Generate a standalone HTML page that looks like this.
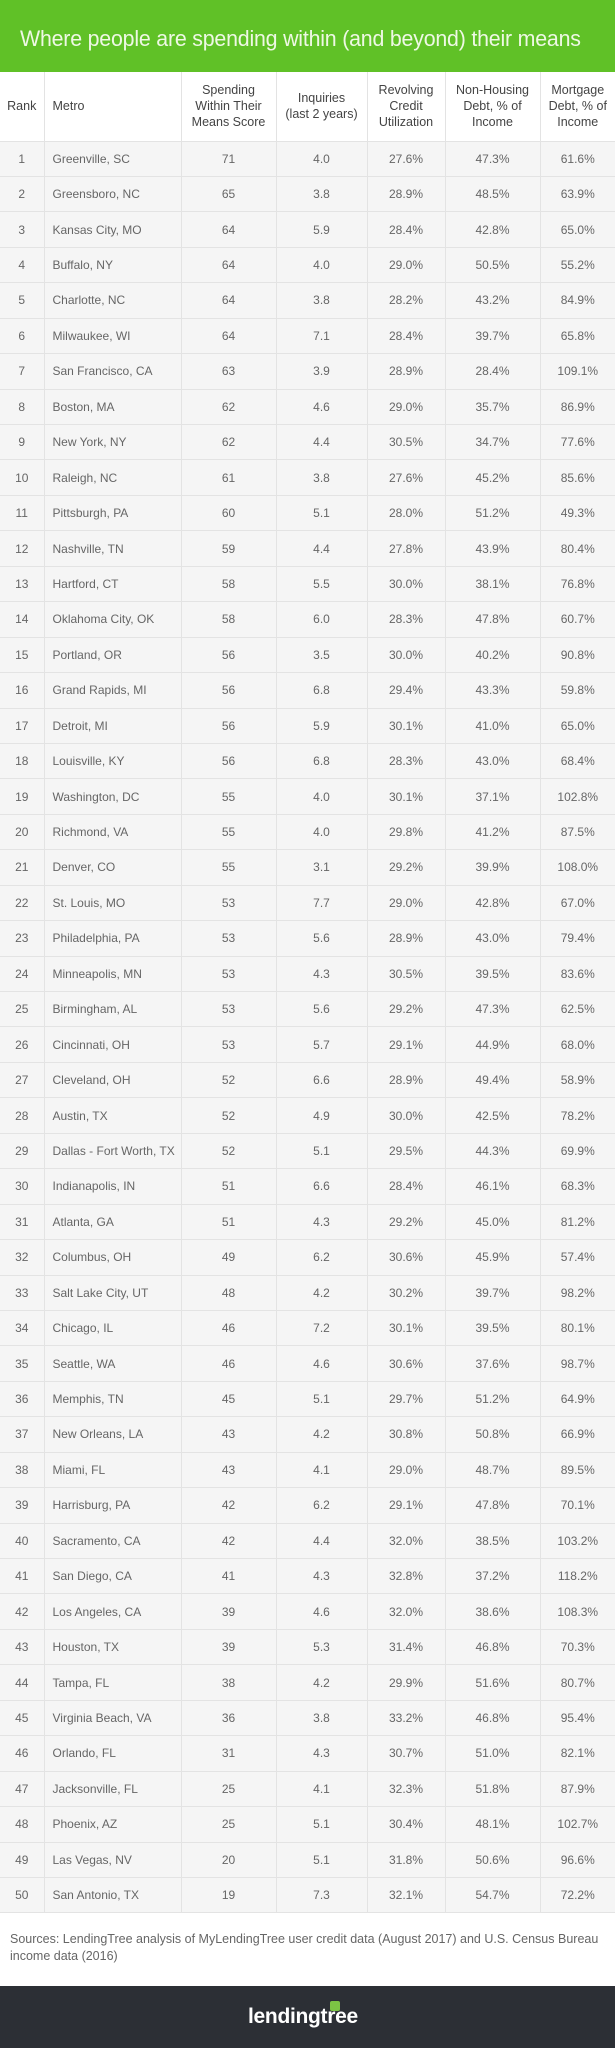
<!DOCTYPE html>
<html><head><meta charset="utf-8"><style>
*{margin:0;padding:0;box-sizing:border-box}
body{width:615px;height:2048px;background:#fff;font-family:"Liberation Sans",sans-serif;position:relative;overflow:hidden}
.hdr{position:absolute;left:0;top:0;width:615px;height:72px;background:#60c127}
.hdr span{position:absolute;left:20px;top:26px;font-size:22px;color:#eef8e4;white-space:nowrap;transform:scaleX(0.97);transform-origin:left top;letter-spacing:-0.2px}
table{position:absolute;left:0;top:72px;width:615px;border-collapse:collapse;table-layout:fixed}
th{height:69px;font-weight:normal;font-size:12.5px;line-height:16px;color:#444;border-left:1px solid #e3e3e3;border-bottom:1px solid #e3e3e3;background:#fff;padding:0;white-space:nowrap}
td{height:35.44px;font-size:12px;color:#666;text-align:center;border-left:1px solid #e3e3e3;border-bottom:1px solid #e3e3e3;background:#f5f5f5}
th:first-child,td:first-child{border-left:none;padding:0}
td:nth-child(2),th:nth-child(2){text-align:left;padding-left:8px}
.src{position:absolute;left:10px;top:1931px;width:600px;font-size:12.5px;line-height:17px;color:#666}
.ft{position:absolute;left:0;top:1986px;width:615px;height:62px;background:#2c2f35}
.logo{position:absolute;left:248px;top:20px;font-size:21px;line-height:21px;font-weight:bold;color:#fff;letter-spacing:-0.3px}
.sq{position:absolute;left:330px;top:15px;width:10px;height:10px;background:#7cc444;border-radius:2px}
</style></head><body>
<div class="hdr"><span>Where people are spending within (and beyond) their means</span></div>
<table>
<colgroup><col style="width:44px"><col style="width:137px"><col style="width:95px"><col style="width:91px"><col style="width:78px"><col style="width:95px"><col style="width:75px"></colgroup>
<tr><th>Rank</th><th>Metro</th><th>Spending<br>Within Their<br>Means Score</th><th>Inquiries<br>(last 2 years)</th><th>Revolving<br>Credit<br>Utilization</th><th>Non-Housing<br>Debt, % of<br>Income</th><th>Mortgage<br>Debt, % of<br>Income</th></tr>
<tr><td>1</td><td>Greenville, SC</td><td>71</td><td>4.0</td><td>27.6%</td><td>47.3%</td><td>61.6%</td></tr>
<tr><td>2</td><td>Greensboro, NC</td><td>65</td><td>3.8</td><td>28.9%</td><td>48.5%</td><td>63.9%</td></tr>
<tr><td>3</td><td>Kansas City, MO</td><td>64</td><td>5.9</td><td>28.4%</td><td>42.8%</td><td>65.0%</td></tr>
<tr><td>4</td><td>Buffalo, NY</td><td>64</td><td>4.0</td><td>29.0%</td><td>50.5%</td><td>55.2%</td></tr>
<tr><td>5</td><td>Charlotte, NC</td><td>64</td><td>3.8</td><td>28.2%</td><td>43.2%</td><td>84.9%</td></tr>
<tr><td>6</td><td>Milwaukee, WI</td><td>64</td><td>7.1</td><td>28.4%</td><td>39.7%</td><td>65.8%</td></tr>
<tr><td>7</td><td>San Francisco, CA</td><td>63</td><td>3.9</td><td>28.9%</td><td>28.4%</td><td>109.1%</td></tr>
<tr><td>8</td><td>Boston, MA</td><td>62</td><td>4.6</td><td>29.0%</td><td>35.7%</td><td>86.9%</td></tr>
<tr><td>9</td><td>New York, NY</td><td>62</td><td>4.4</td><td>30.5%</td><td>34.7%</td><td>77.6%</td></tr>
<tr><td>10</td><td>Raleigh, NC</td><td>61</td><td>3.8</td><td>27.6%</td><td>45.2%</td><td>85.6%</td></tr>
<tr><td>11</td><td>Pittsburgh, PA</td><td>60</td><td>5.1</td><td>28.0%</td><td>51.2%</td><td>49.3%</td></tr>
<tr><td>12</td><td>Nashville, TN</td><td>59</td><td>4.4</td><td>27.8%</td><td>43.9%</td><td>80.4%</td></tr>
<tr><td>13</td><td>Hartford, CT</td><td>58</td><td>5.5</td><td>30.0%</td><td>38.1%</td><td>76.8%</td></tr>
<tr><td>14</td><td>Oklahoma City, OK</td><td>58</td><td>6.0</td><td>28.3%</td><td>47.8%</td><td>60.7%</td></tr>
<tr><td>15</td><td>Portland, OR</td><td>56</td><td>3.5</td><td>30.0%</td><td>40.2%</td><td>90.8%</td></tr>
<tr><td>16</td><td>Grand Rapids, MI</td><td>56</td><td>6.8</td><td>29.4%</td><td>43.3%</td><td>59.8%</td></tr>
<tr><td>17</td><td>Detroit, MI</td><td>56</td><td>5.9</td><td>30.1%</td><td>41.0%</td><td>65.0%</td></tr>
<tr><td>18</td><td>Louisville, KY</td><td>56</td><td>6.8</td><td>28.3%</td><td>43.0%</td><td>68.4%</td></tr>
<tr><td>19</td><td>Washington, DC</td><td>55</td><td>4.0</td><td>30.1%</td><td>37.1%</td><td>102.8%</td></tr>
<tr><td>20</td><td>Richmond, VA</td><td>55</td><td>4.0</td><td>29.8%</td><td>41.2%</td><td>87.5%</td></tr>
<tr><td>21</td><td>Denver, CO</td><td>55</td><td>3.1</td><td>29.2%</td><td>39.9%</td><td>108.0%</td></tr>
<tr><td>22</td><td>St. Louis, MO</td><td>53</td><td>7.7</td><td>29.0%</td><td>42.8%</td><td>67.0%</td></tr>
<tr><td>23</td><td>Philadelphia, PA</td><td>53</td><td>5.6</td><td>28.9%</td><td>43.0%</td><td>79.4%</td></tr>
<tr><td>24</td><td>Minneapolis, MN</td><td>53</td><td>4.3</td><td>30.5%</td><td>39.5%</td><td>83.6%</td></tr>
<tr><td>25</td><td>Birmingham, AL</td><td>53</td><td>5.6</td><td>29.2%</td><td>47.3%</td><td>62.5%</td></tr>
<tr><td>26</td><td>Cincinnati, OH</td><td>53</td><td>5.7</td><td>29.1%</td><td>44.9%</td><td>68.0%</td></tr>
<tr><td>27</td><td>Cleveland, OH</td><td>52</td><td>6.6</td><td>28.9%</td><td>49.4%</td><td>58.9%</td></tr>
<tr><td>28</td><td>Austin, TX</td><td>52</td><td>4.9</td><td>30.0%</td><td>42.5%</td><td>78.2%</td></tr>
<tr><td>29</td><td>Dallas - Fort Worth, TX</td><td>52</td><td>5.1</td><td>29.5%</td><td>44.3%</td><td>69.9%</td></tr>
<tr><td>30</td><td>Indianapolis, IN</td><td>51</td><td>6.6</td><td>28.4%</td><td>46.1%</td><td>68.3%</td></tr>
<tr><td>31</td><td>Atlanta, GA</td><td>51</td><td>4.3</td><td>29.2%</td><td>45.0%</td><td>81.2%</td></tr>
<tr><td>32</td><td>Columbus, OH</td><td>49</td><td>6.2</td><td>30.6%</td><td>45.9%</td><td>57.4%</td></tr>
<tr><td>33</td><td>Salt Lake City, UT</td><td>48</td><td>4.2</td><td>30.2%</td><td>39.7%</td><td>98.2%</td></tr>
<tr><td>34</td><td>Chicago, IL</td><td>46</td><td>7.2</td><td>30.1%</td><td>39.5%</td><td>80.1%</td></tr>
<tr><td>35</td><td>Seattle, WA</td><td>46</td><td>4.6</td><td>30.6%</td><td>37.6%</td><td>98.7%</td></tr>
<tr><td>36</td><td>Memphis, TN</td><td>45</td><td>5.1</td><td>29.7%</td><td>51.2%</td><td>64.9%</td></tr>
<tr><td>37</td><td>New Orleans, LA</td><td>43</td><td>4.2</td><td>30.8%</td><td>50.8%</td><td>66.9%</td></tr>
<tr><td>38</td><td>Miami, FL</td><td>43</td><td>4.1</td><td>29.0%</td><td>48.7%</td><td>89.5%</td></tr>
<tr><td>39</td><td>Harrisburg, PA</td><td>42</td><td>6.2</td><td>29.1%</td><td>47.8%</td><td>70.1%</td></tr>
<tr><td>40</td><td>Sacramento, CA</td><td>42</td><td>4.4</td><td>32.0%</td><td>38.5%</td><td>103.2%</td></tr>
<tr><td>41</td><td>San Diego, CA</td><td>41</td><td>4.3</td><td>32.8%</td><td>37.2%</td><td>118.2%</td></tr>
<tr><td>42</td><td>Los Angeles, CA</td><td>39</td><td>4.6</td><td>32.0%</td><td>38.6%</td><td>108.3%</td></tr>
<tr><td>43</td><td>Houston, TX</td><td>39</td><td>5.3</td><td>31.4%</td><td>46.8%</td><td>70.3%</td></tr>
<tr><td>44</td><td>Tampa, FL</td><td>38</td><td>4.2</td><td>29.9%</td><td>51.6%</td><td>80.7%</td></tr>
<tr><td>45</td><td>Virginia Beach, VA</td><td>36</td><td>3.8</td><td>33.2%</td><td>46.8%</td><td>95.4%</td></tr>
<tr><td>46</td><td>Orlando, FL</td><td>31</td><td>4.3</td><td>30.7%</td><td>51.0%</td><td>82.1%</td></tr>
<tr><td>47</td><td>Jacksonville, FL</td><td>25</td><td>4.1</td><td>32.3%</td><td>51.8%</td><td>87.9%</td></tr>
<tr><td>48</td><td>Phoenix, AZ</td><td>25</td><td>5.1</td><td>30.4%</td><td>48.1%</td><td>102.7%</td></tr>
<tr><td>49</td><td>Las Vegas, NV</td><td>20</td><td>5.1</td><td>31.8%</td><td>50.6%</td><td>96.6%</td></tr>
<tr><td>50</td><td>San Antonio, TX</td><td>19</td><td>7.3</td><td>32.1%</td><td>54.7%</td><td>72.2%</td></tr>
</table>
<div class="src">Sources: LendingTree analysis of MyLendingTree user credit data (August 2017) and U.S. Census Bureau income data (2016)</div>
<div class="ft"><div class="sq"></div><div class="logo">lendingtree</div></div>
</body></html>
